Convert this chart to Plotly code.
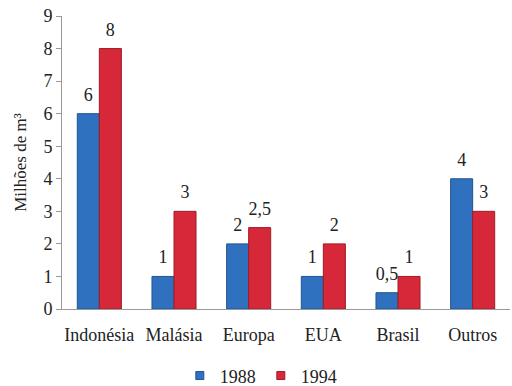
import plotly.graph_objects as go

categories = ["Indonésia", "Malásia", "Europa", "EUA", "Brasil", "Outros"]
values_1988 = [6, 1, 2, 1, 0.5, 4]
values_1994 = [8, 3, 2.5, 2, 1, 3]
labels_1988 = ["6", "1", "2", "1", "0,5", "4"]
labels_1994 = ["8", "3", "2,5", "2", "1", "3"]
y_ticks = [0, 1, 2, 3, 4, 5, 6, 7, 8, 9]

FONT = "Liberation Serif"
BLUE = "#2f70bf"
RED = "#d62838"

fig = go.Figure()
fig.add_trace(go.Bar(
    name="1988", x=categories, y=values_1988, offsetgroup="a", showlegend=False,
    marker=dict(color=BLUE, line=dict(color="#1f558f", width=1)),
))
fig.add_trace(go.Bar(
    name="1994", x=categories, y=values_1994, offsetgroup="b", showlegend=False,
    marker=dict(color=RED, line=dict(color="#9e1c27", width=1)),
))
# value labels
for vals, labs, grp in ((values_1988, labels_1988, "a"), (values_1994, labels_1994, "b")):
    fig.add_trace(go.Scatter(
        x=categories, y=vals, text=labs, mode="markers+text",
        marker=dict(size=12, opacity=0),
        textposition="top center", offsetgroup=grp, showlegend=False, cliponaxis=False,
        textfont=dict(family=FONT, size=18, color="#222"), hoverinfo="skip",
    ))
# legend entries
fig.add_trace(go.Scatter(name="1988", x=[None], y=[None], mode="markers",
                         marker=dict(symbol="square", size=8, color=BLUE,
                                     line=dict(color="#1f558f", width=1))))
fig.add_trace(go.Scatter(name="1994", x=[None], y=[None], mode="markers",
                         marker=dict(symbol="square", size=8, color=RED,
                                     line=dict(color="#9e1c27", width=1))))

fig.update_layout(
    width=512, height=386,
    margin=dict(l=62, r=2, t=16, b=77, autoexpand=False),
    paper_bgcolor="white", plot_bgcolor="white",
    barmode="group", bargap=0.41, bargroupgap=0, scattermode="group",
    font=dict(family=FONT, size=17, color="#222"),
    showlegend=True,
    legend=dict(orientation="h", x=0.263, y=-0.165, xanchor="left", yanchor="top",
                font=dict(family=FONT, size=18, color="#222"),
                itemwidth=30, traceorder="normal", tracegroupgap=0),
    xaxis=dict(showline=True, linecolor="#999", linewidth=1, ticks="",
               ticklabelstandoff=9, tickfont=dict(family=FONT, size=18)),
    yaxis=dict(range=[0, 9], tickvals=y_ticks, showline=True, linecolor="#999",
               linewidth=1, ticks="outside", ticklen=5, tickcolor="#999",
               showgrid=False, zeroline=False, tickfont=dict(family=FONT, size=18),
               title=dict(text="Milhões de m³", font=dict(family=FONT, size=17), standoff=12)),
)

fig.write_html("out.html")
